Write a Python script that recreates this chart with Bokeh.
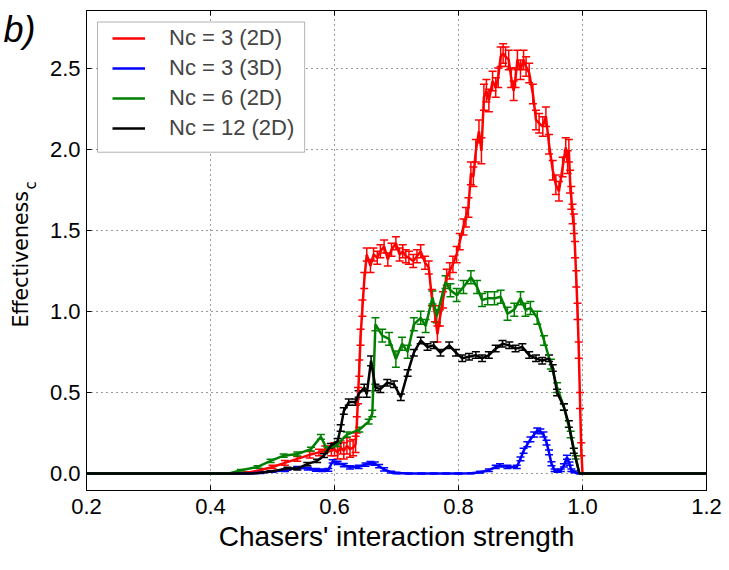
import math
from bokeh.plotting import figure
from bokeh.layouts import row
from bokeh.models import (Range1d, FixedTicker, PrintfTickFormatter, LinearAxis, Legend, LegendItem,
                          ColumnDataSource, Whisker, TeeHead, Label, BoxAnnotation, CustomJSTickFormatter)
from bokeh.embed import file_html
from bokeh.resources import INLINE

# ---------------- data ----------------
x_ticks = [0.2, 0.4, 0.6, 0.8, 1.0, 1.2]
y_ticks = [0.0, 0.5, 1.0, 1.5, 2.0, 2.5]
x_label = "Chasers' interaction strength"
y_label = "Effectiveness"
y_sub = "c"
panel_tag = "b)"

names = ["Nc = 3 (2D)", "Nc = 3 (3D)", "Nc = 6 (2D)", "Nc = 12 (2D)"]
colors = ["#ff0000", "#0000ff", "#008000", "#000000"]

red_x = [0.20, 0.30, 0.40, 0.44, 0.46, 0.48, 0.50, 0.52, 0.54, 0.56, 0.575, 0.585, 0.595, 0.600,
         0.605, 0.610, 0.615, 0.620, 0.625, 0.630, 0.634, 0.636, 0.638, 0.640, 0.642, 0.645, 0.648,
         0.652, 0.658, 0.663, 0.669, 0.674, 0.680, 0.686, 0.692, 0.699, 0.705, 0.710, 0.715, 0.720,
         0.727, 0.733, 0.739, 0.746, 0.752, 0.757, 0.762, 0.766, 0.770, 0.775, 0.781, 0.786, 0.791,
         0.797, 0.802, 0.808, 0.812, 0.816, 0.820, 0.824, 0.828, 0.833, 0.837, 0.841, 0.845, 0.849,
         0.855, 0.860, 0.864, 0.868, 0.872, 0.876, 0.881, 0.885, 0.889, 0.892, 0.895, 0.900, 0.905,
         0.909, 0.914, 0.920, 0.925, 0.930, 0.936, 0.941, 0.946, 0.952, 0.957, 0.962, 0.968, 0.973,
         0.976, 0.978, 0.980, 0.982, 0.984, 0.986, 0.988, 0.990, 0.992, 0.994, 0.996, 0.998, 1.000,
         1.10, 1.20]
red_y = [0, 0, 0, 0, 0.005, 0.02, 0.04, 0.065, 0.09, 0.115, 0.13, 0.15, 0.14, 0.15,
         0.13, 0.16, 0.14, 0.17, 0.15, 0.16, 0.18, 0.30, 0.48, 0.65, 0.84, 1.02, 1.19,
         1.35, 1.28, 1.35, 1.33, 1.37, 1.40, 1.32, 1.38, 1.42, 1.35, 1.37, 1.34, 1.33,
         1.31, 1.34, 1.37, 1.30, 1.27, 1.085, 0.985, 0.86, 0.96, 1.07, 1.21, 1.25, 1.29,
         1.35, 1.43, 1.52, 1.58, 1.64, 1.85, 1.83, 1.99, 2.11, 1.99, 2.32, 2.36, 2.30,
         2.42, 2.38, 2.44, 2.57, 2.59, 2.57, 2.55, 2.44, 2.36, 2.44, 2.55, 2.49, 2.55,
         2.51, 2.47, 2.34, 2.18, 2.16, 2.14, 2.20, 2.03, 1.87, 1.78, 1.74, 1.89, 2.01,
         1.92, 1.99, 1.80, 1.70, 1.60, 1.54, 1.38, 1.20, 1.00, 0.76, 0.45, 0.15, 0.0,
         0, 0]
red_e = [0, 0, 0, 0, 0.005, 0.01, 0.01, 0.015, 0.015, 0.02, 0.02, 0.02, 0.03, 0.04,
         0.04, 0.04, 0.05, 0.05, 0.05, 0.05, 0.05, 0.05, 0.05, 0.05, 0.05, 0.05, 0.05,
         0.04, 0.04, 0.04, 0.04, 0.04, 0.04, 0.04, 0.04, 0.04, 0.04, 0.04, 0.04, 0.04,
         0.04, 0.04, 0.04, 0.04, 0.04, 0.05, 0.05, 0.05, 0.05, 0.05, 0.05, 0.05, 0.05,
         0.05, 0.05, 0.05, 0.06, 0.06, 0.07, 0.06, 0.07, 0.07, 0.08, 0.08, 0.07, 0.07,
         0.06, 0.06, 0.06, 0.06, 0.06, 0.06, 0.06, 0.06, 0.06, 0.06, 0.06, 0.06, 0.06,
         0.06, 0.06, 0.06, 0.06, 0.06, 0.06, 0.06, 0.06, 0.06, 0.06, 0.06, 0.06, 0.06,
         0.07, 0.07, 0.07, 0.07, 0.06, 0.06, 0.05, 0.05, 0.05, 0.05, 0.05, 0.04, 0,
         0, 0]

blue_x = [0.20, 0.30, 0.40, 0.46, 0.48, 0.50, 0.52, 0.54, 0.557, 0.57, 0.58, 0.59, 0.597, 0.605,
          0.615, 0.625, 0.639, 0.650, 0.658, 0.665, 0.672, 0.680, 0.691, 0.700, 0.720, 0.740,
          0.760, 0.780, 0.800, 0.820, 0.835, 0.849, 0.860, 0.867, 0.879, 0.894, 0.900, 0.905,
          0.911, 0.916, 0.922, 0.927, 0.932, 0.937, 0.942, 0.946, 0.950, 0.955, 0.960, 0.965,
          0.970, 0.975, 0.979, 0.982, 0.987, 0.991, 1.00, 1.10, 1.20]
blue_y = [0, 0, 0, 0, 0.005, 0.012, 0.02, 0.035, 0.03, 0.022, 0.02, 0.022, 0.074, 0.065,
          0.052, 0.038, 0.041, 0.055, 0.064, 0.06, 0.045, 0.025, 0.008, 0.003, 0, 0,
          0, 0, 0, 0.002, 0.008, 0.02, 0.04, 0.05, 0.04, 0.04, 0.09, 0.14,
          0.18, 0.21, 0.24, 0.265, 0.26, 0.24, 0.19, 0.13, 0.06, 0.02, 0.015, 0.02,
          0.05, 0.10, 0.06, 0.02, 0.01, 0, 0, 0, 0]
blue_e = [0, 0, 0, 0, 0.005, 0.005, 0.008, 0.008, 0.008, 0.008, 0.008, 0.008, 0.01, 0.01,
          0.01, 0.01, 0.01, 0.01, 0.01, 0.01, 0.01, 0.01, 0.005, 0.005, 0.003, 0.003,
          0.003, 0.003, 0.003, 0.003, 0.005, 0.008, 0.01, 0.01, 0.01, 0.01, 0.012, 0.015,
          0.015, 0.015, 0.015, 0.015, 0.015, 0.015, 0.015, 0.015, 0.012, 0.008, 0.008, 0.008,
          0.01, 0.012, 0.01, 0.008, 0.005, 0, 0, 0, 0]

green_x = [0.20, 0.30, 0.40, 0.43, 0.449, 0.476, 0.497, 0.518, 0.540, 0.562, 0.578, 0.588, 0.605,
           0.620, 0.640, 0.655, 0.661, 0.666, 0.677, 0.688, 0.699, 0.709, 0.718, 0.728, 0.739,
           0.747, 0.758, 0.765, 0.779, 0.787, 0.797, 0.808, 0.820, 0.830, 0.838, 0.847, 0.858,
           0.868, 0.879, 0.890, 0.900, 0.908, 0.916, 0.927, 0.938, 0.949, 0.959, 0.970, 0.981,
           0.989, 0.995, 1.00, 1.10, 1.20]
green_y = [0, 0, 0, 0, 0.02, 0.04, 0.078, 0.11, 0.12, 0.15, 0.226, 0.15, 0.18,
           0.24, 0.27, 0.32, 0.37, 0.92, 0.85, 0.83, 0.705, 0.80, 0.75, 0.92, 0.96,
           0.91, 1.085, 0.97, 1.18, 1.13, 1.10, 1.15, 1.21, 1.15, 1.07, 1.08, 1.08,
           1.09, 0.985, 1.01, 1.08, 1.01, 1.02, 0.96, 0.82, 0.675, 0.53, 0.41, 0.24,
           0.10, 0, 0, 0, 0]
green_e = [0, 0, 0, 0, 0.005, 0.008, 0.01, 0.01, 0.012, 0.012, 0.015, 0.015, 0.015,
           0.015, 0.015, 0.015, 0.02, 0.04, 0.04, 0.04, 0.05, 0.04, 0.04, 0.04, 0.04,
           0.04, 0.04, 0.04, 0.04, 0.04, 0.04, 0.04, 0.04, 0.04, 0.04, 0.04, 0.04,
           0.04, 0.04, 0.04, 0.04, 0.04, 0.04, 0.04, 0.03, 0.03, 0.03, 0.02, 0.02,
           0.01, 0, 0, 0, 0]

black_x = [0.20, 0.30, 0.40, 0.47, 0.497, 0.524, 0.540, 0.556, 0.572, 0.583, 0.594, 0.605, 0.610,
           0.615, 0.623, 0.634, 0.639, 0.648, 0.652, 0.659, 0.666, 0.674, 0.685, 0.696, 0.707,
           0.718, 0.728, 0.739, 0.750, 0.760, 0.771, 0.785, 0.796, 0.806, 0.817, 0.828, 0.838,
           0.849, 0.860, 0.871, 0.882, 0.892, 0.903, 0.914, 0.925, 0.935, 0.946, 0.952, 0.959,
           0.970, 0.978, 0.986, 0.995, 1.00, 1.10, 1.20]
black_y = [0, 0, 0, 0, 0.012, 0.03, 0.03, 0.058, 0.078, 0.11, 0.17, 0.20, 0.28,
           0.385, 0.44, 0.44, 0.49, 0.53, 0.49, 0.695, 0.53, 0.52, 0.56, 0.55, 0.47,
           0.62, 0.745, 0.82, 0.78, 0.79, 0.745, 0.79, 0.745, 0.71, 0.72, 0.73, 0.71,
           0.73, 0.77, 0.80, 0.79, 0.77, 0.78, 0.73, 0.71, 0.695, 0.71, 0.65, 0.50,
           0.41, 0.305, 0.14, 0, 0, 0, 0]
black_e = [0, 0, 0, 0, 0.005, 0.008, 0.008, 0.01, 0.01, 0.012, 0.015, 0.015, 0.02,
           0.02, 0.02, 0.02, 0.02, 0.02, 0.02, 0.03, 0.02, 0.02, 0.02, 0.02, 0.02,
           0.02, 0.02, 0.02, 0.02, 0.02, 0.02, 0.02, 0.02, 0.02, 0.02, 0.02, 0.02,
           0.02, 0.02, 0.02, 0.02, 0.02, 0.02, 0.02, 0.02, 0.02, 0.02, 0.02, 0.02,
           0.02, 0.02, 0.015, 0, 0, 0, 0]

series = [(red_x, red_y, red_e), (blue_x, blue_y, blue_e),
          (green_x, green_y, green_e), (black_x, black_y, black_e)]

# ---------------- main figure ----------------
FONT = "Liberation Sans"
LEFT_W = 40
p = figure(frame_width=620, frame_height=480, min_border_left=86 - LEFT_W, min_border_top=10,
           min_border_right=19, min_border_bottom=75,
           x_range=Range1d(0.2, 1.2), y_range=Range1d(-0.105, 2.855),
           output_backend="svg", toolbar_location=None, tools="")
p.outline_line_color = "black"
p.outline_line_width = 1
p.background_fill_color = "white"
p.border_fill_color = "white"

xt = FixedTicker(ticks=x_ticks)
yt = FixedTicker(ticks=y_ticks)
p.xaxis.ticker = xt
p.yaxis.ticker = yt
p.xgrid.ticker = xt
p.ygrid.ticker = yt
p.xaxis.formatter = PrintfTickFormatter(format="%.1f")
p.yaxis.formatter = PrintfTickFormatter(format="%.1f")
for ax in (p.xaxis[0], p.yaxis[0]):
    ax.major_tick_in = 5
    ax.major_tick_out = 0
    ax.minor_tick_line_color = None
    ax.axis_line_color = "black"
    ax.major_tick_line_color = "black"
    ax.major_label_text_font = FONT
    ax.major_label_text_font_size = "22px"
    ax.major_label_text_color = "black"
p.yaxis.major_label_standoff = 6
p.xaxis.major_label_standoff = 8
p.xaxis.axis_label = x_label
p.xaxis.axis_label_text_font = FONT
p.xaxis.axis_label_text_font_size = "28px"
p.xaxis.axis_label_text_font_style = "normal"
p.xaxis.axis_label_text_color = "black"
p.xaxis.axis_label_standoff = 4

empty = CustomJSTickFormatter(code="return ''")
for loc, tk in (("above", xt), ("right", yt)):
    ax = LinearAxis(ticker=tk, formatter=empty, major_tick_in=5, major_tick_out=0,
                    minor_tick_line_color=None, axis_line_color="black",
                    major_label_standoff=0, major_label_text_font_size="1px")
    p.add_layout(ax, loc)

for g in (p.xgrid[0], p.ygrid[0]):
    g.grid_line_color = "black"
    g.grid_line_dash = "1 4"
    g.grid_line_width = 1
    g.grid_line_alpha = 0.8

renderers = []
for (xs, ys, es), c in zip(series, colors):
    r = p.line(xs, ys, line_color=c, line_width=2.5)
    renderers.append(r)
    wx = [a for a, e in zip(xs, es) if e > 0]
    wu = [b + e for b, e in zip(ys, es) if e > 0]
    wl = [b - e for b, e in zip(ys, es) if e > 0]
    src = ColumnDataSource(data=dict(x=wx, upper=wu, lower=wl))
    w = Whisker(source=src, base="x", upper="upper", lower="lower",
                line_color=c, line_width=1.5,
                upper_head=TeeHead(size=8, line_color=c, line_width=1.5),
                lower_head=TeeHead(size=8, line_color=c, line_width=1.5))
    p.add_layout(w)

# legend box and legend
box = BoxAnnotation(left=0.2178, right=0.5519, top=2.784, bottom=1.981,
                    fill_color="white", fill_alpha=1.0, line_color="black", line_width=1)
p.add_layout(box)
legend = Legend(items=[LegendItem(label=n, renderers=[r]) for n, r in zip(names, renderers)],
                location=(22, 343), padding=4, spacing=0, label_height=30, glyph_height=30,
                glyph_width=33, label_standoff=24, label_text_font=FONT,
                label_text_font_size="22px", border_line_alpha=0, background_fill_alpha=0)
p.add_layout(legend)

# ---------------- narrow side figure holding the y label and the panel tag ----------------
side = figure(width=LEFT_W, height=565, min_border=0, x_axis_type=None, y_axis_type=None,
              x_range=Range1d(0, 1), y_range=Range1d(0, 1),
              output_backend="svg", toolbar_location=None, tools="")
side.outline_line_color = None
side.background_fill_color = "white"
side.border_fill_color = "white"
side.add_layout(Label(x=20.5, y=327, x_units="canvas", y_units="canvas", text=y_label,
                      angle=math.pi / 2, text_align="left", text_baseline="alphabetic",
                      text_font="DejaVu Sans", text_font_size="20.5px", text_color="black"))
side.add_layout(Label(x=30, y=189, x_units="canvas", y_units="canvas", text=y_sub,
                      angle=math.pi / 2, text_align="left", text_baseline="alphabetic",
                      text_font="DejaVu Sans", text_font_size="15px", text_color="black"))
side.add_layout(Label(x=3, y=29, x_units="canvas", y_units="canvas", text=panel_tag,
                      text_align="left", text_baseline="alphabetic", text_font=FONT,
                      text_font_style="italic", text_font_size="36px", text_color="black"))

layout = row(side, p, spacing=0)
open("out.html", "w").write(file_html(layout, INLINE))
